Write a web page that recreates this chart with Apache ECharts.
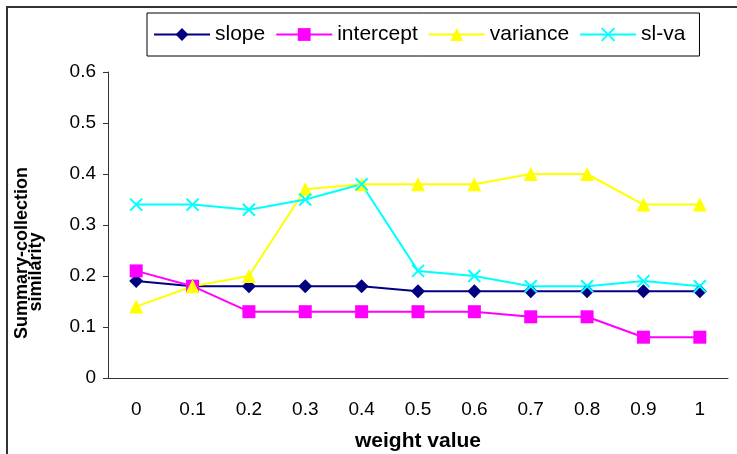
<!DOCTYPE html>
<html>
<head>
<meta charset="utf-8">
<script src="https://cdn.jsdelivr.net/npm/echarts@6/dist/echarts.min.js"></script>
<style>
  html, body { margin: 0; padding: 0; background: #fff; }
  #chart { width: 737px; height: 454px; }
</style>
</head>
<body>
<div id="chart"></div>
<script>
var categories = ["0", "0.1", "0.2", "0.3", "0.4", "0.5", "0.6", "0.7", "0.8", "0.9", "1"];
var slope = [0.19, 0.18, 0.18, 0.18, 0.18, 0.17, 0.17, 0.17, 0.17, 0.17, 0.17];
var intercept = [0.21, 0.18, 0.13, 0.13, 0.13, 0.13, 0.13, 0.12, 0.12, 0.08, 0.08];
var variance = [0.14, 0.18, 0.2, 0.37, 0.38, 0.38, 0.38, 0.4, 0.4, 0.34, 0.34];
var slVa = [0.34, 0.34, 0.33, 0.35, 0.38, 0.21, 0.2, 0.18, 0.18, 0.19, 0.18];
var yTicks = [0, 0.1, 0.2, 0.3, 0.4, 0.5, 0.6];

var font = "Liberation Sans, Arial, sans-serif";
var crossPath = "path://M0,0L10,10M10,0L0,10";

var chart = echarts.init(document.getElementById("chart"));

function makeSeries(name, data, color, symbol, size) {
  return {
    name: name,
    type: "line",
    data: data,
    symbol: symbol,
    symbolSize: size,
    lineStyle: { color: color, width: 2 },
    itemStyle: { color: color, borderColor: color, borderWidth: symbol == crossPath ? 2 : 0 },
    emphasis: { disabled: true }
  };
}

var option = {
  animation: false,
  textStyle: { fontFamily: font },
  grid: { left: 108, right: 9, top: 72, bottom: 76, containLabel: false, outerBoundsMode: "none" },
  legend: {
    left: 147,
    top: 13,
    padding: [11, 14, 11, 6],
    itemGap: 10,
    itemWidth: 56,
    itemHeight: 16,
    borderColor: "#000",
    borderWidth: 1,
    textStyle: { fontSize: 21, color: "#000", fontFamily: font },
    data: ["slope", "intercept", "variance", "sl-va"]
  },
  xAxis: {
    type: "category",
    data: categories,
    boundaryGap: true,
    name: "weight value",
    nameLocation: "middle",
    nameGap: 53,
    nameTextStyle: { fontSize: 21, fontWeight: "bold", color: "#000", fontFamily: font },
    axisLine: { lineStyle: { color: "#333", width: 1 } },
    axisTick: { length: 5, lineStyle: { color: "#333" } },
    axisLabel: { fontSize: 19, color: "#000", margin: 22 }
  },
  yAxis: {
    type: "value",
    min: yTicks[0],
    max: yTicks[yTicks.length - 1],
    interval: 0.1,
    axisLine: { show: true, lineStyle: { color: "#333", width: 1 } },
    axisTick: { show: true, length: 5, lineStyle: { color: "#333" } },
    splitLine: { show: false },
    axisLabel: { fontSize: 19, color: "#000", margin: 12 }
  },
  graphic: [
    {
      type: "rect",
      shape: { x: 7, y: 7, width: 800, height: 500 },
      style: { fill: "none", stroke: "#333", lineWidth: 2 },
      silent: true
    },
    {
      type: "text",
      x: 22,
      y: 253,
      rotation: Math.PI / 2,
      style: {
        text: "Summary-collection",
        font: "bold 18px " + font,
        fill: "#000",
        textAlign: "center",
        textVerticalAlign: "middle"
      }
    },
    {
      type: "text",
      x: 36,
      y: 272,
      rotation: Math.PI / 2,
      style: {
        text: "similarity",
        font: "bold 18px " + font,
        fill: "#000",
        textAlign: "center",
        textVerticalAlign: "middle"
      }
    }
  ],
  series: [
    makeSeries("slope", slope, "#000080", "diamond", 14),
    makeSeries("intercept", intercept, "#ff00ff", "rect", 13),
    makeSeries("variance", variance, "#ffff00", "triangle", 14),
    makeSeries("sl-va", slVa, "#00ffff", crossPath, 12)
  ]
};

chart.setOption(option, true);
window.addEventListener("resize", function () {
  chart.resize();
});
</script>
</body>
</html>
